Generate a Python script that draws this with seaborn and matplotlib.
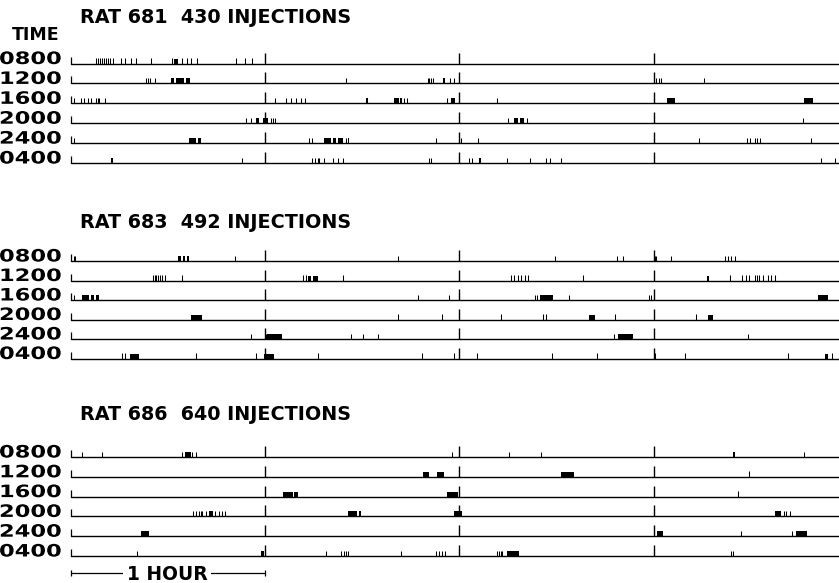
import numpy as np
import pandas as pd
import matplotlib
matplotlib.use("Agg")
import matplotlib.pyplot as plt
import matplotlib.patheffects as pe
from matplotlib.transforms import Affine2D
import seaborn as sns

# ---------------- data ----------------
TIME_LABELS = ["0800", "1200", "1600", "2000", "2400", "0400"]
RAT_IDS = ["681", "683", "686"]
INJECTIONS = [430, 492, 640]
HOUR_MARKS = [60, 120, 180]          # minutes into each 4-hour row
ROW_SPAN = 240                        # minutes per row

# single injection ticks (minutes) per row, RAT 681
r681_ticks = [
    [7.6, 8.2, 8.9, 9.5, 10.1, 10.7, 11.3, 12.2, 13.0, 15.4, 16.7, 18.5, 20.2, 24.6,
     31.3, 34.2, 35.7, 37.0, 38.8, 51.1, 53.8, 55.8],
    [23.1, 23.7, 24.3, 26.0, 85.0, 110.2, 110.7, 111.2, 111.7, 117.2, 118.2,
     180.6, 181.6, 182.4, 195.4],
    [0.9, 3.0, 4.0, 5.1, 6.1, 7.6, 8.2, 8.7, 10.5, 63.1, 66.4, 67.9, 69.5, 71.0, 72.4,
     91.3, 102.8, 103.7, 116.1, 131.6],
    [54.0, 55.6, 61.8, 62.5, 63.1, 134.9, 140.8, 226.2],
    [0.8, 73.6, 74.6, 85.0, 112.8, 120.6, 125.6, 194.0, 208.8, 209.7, 211.2, 212.0,
     212.8, 228.7],
    [52.8, 74.4, 75.5, 76.2, 76.7, 78.3, 80.8, 82.4, 84.0, 110.5, 111.2, 120.0, 123.1,
     123.8, 126.0, 134.6, 141.9, 146.8, 148.1, 151.4, 231.8, 236.0],
]
# bursts (start, end minutes) per row, RAT 681
r681_bursts = [
    [(31.9, 33.0)],
    [(30.8, 31.9), (32.4, 34.9), (35.5, 36.7), (115.0, 115.6)],
    [(91.1, 91.6), (99.9, 101.2), (101.5, 102.2), (117.4, 118.7), (184.1, 186.6),
     (226.4, 229.1)],
    [(57.1, 58.1), (59.4, 61.0), (137.0, 138.2), (138.8, 139.9)],
    [(36.3, 38.6), (39.1, 40.1), (78.3, 80.3), (80.8, 81.9), (82.5, 83.9), (85.6, 86.0)],
    [(12.3, 12.9), (125.9, 126.8)],
]

r683_ticks = [
    [0.8, 1.2, 50.7, 100.9, 149.4, 168.6, 170.5, 180.3, 180.8, 185.4, 201.9, 202.9,
     204.0, 205.0],
    [25.2, 25.8, 26.4, 27.0, 27.6, 28.2, 29.0, 34.4, 71.8, 72.6, 83.9, 136.0, 137.0,
     138.1, 139.1, 140.1, 141.1, 158.3, 203.7, 207.4, 208.4, 209.5, 211.2, 211.9,
     212.5, 213.8, 215.3, 216.4, 217.4],
    [0.9, 107.1, 116.7, 143.2, 143.9, 153.8, 178.6, 179.1],
    [100.9, 114.6, 132.7, 145.9, 146.6, 168.1, 193.0],
    [55.6, 60.2, 86.5, 90.3, 94.7, 167.6, 209.2],
    [15.9, 16.7, 38.6, 57.1, 76.2, 108.4, 118.2, 125.3, 148.6, 162.6, 180.3, 189.6,
     221.5, 235.0],
]
r683_bursts = [
    [(33.2, 34.0), (34.6, 35.3), (35.8, 36.6)],
    [(73.1, 74.1), (74.9, 76.2), (196.5, 197.0)],
    [(3.5, 5.6), (6.1, 7.1), (7.6, 8.7), (144.9, 149.0), (230.8, 233.9)],
    [(37.0, 40.6), (160.0, 162.0), (196.8, 198.3)],
    [(60.6, 65.2), (168.9, 173.6)],
    [(18.1, 21.0), (59.5, 62.8), (232.9, 233.9)],
]

r686_ticks = [
    [3.5, 9.5, 34.4, 37.5, 38.6, 117.6, 135.4, 145.2, 226.5],
    [209.5],
    [206.1],
    [37.7, 38.5, 39.5, 40.1, 40.6, 41.6, 44.6, 45.6, 46.7, 47.7, 220.3, 221.0, 222.0],
    [207.1, 222.6],
    [20.5, 78.8, 83.4, 84.4, 85.0, 85.5, 102.0, 112.8, 113.8, 114.6, 115.5, 131.5,
     132.3, 132.8, 133.3, 204.0, 204.5],
]
r686_bursts = [
    [(35.2, 37.0), (204.6, 205.1)],
    [(108.8, 110.7), (113.0, 115.3), (151.4, 155.5)],
    [(65.4, 68.5), (69.0, 70.2), (116.2, 119.5)],
    [(42.6, 43.9), (85.5, 88.3), (88.9, 89.6), (118.2, 120.8), (217.4, 219.3)],
    [(21.5, 24.1), (181.0, 182.9), (223.9, 227.5)],
    [(58.7, 59.7), (134.7, 138.5)],
]

ALL_TICKS = [r681_ticks, r683_ticks, r686_ticks]
ALL_BURSTS = [r681_bursts, r683_bursts, r686_bursts]

# ---------------- layout ----------------
W, H = 839, 583
PX0 = 71.0            # pixel of minute 0
PX_PER_MIN = 3.237
PANEL_Y0 = [63.5, 261.0, 457.0]
ROW_STEP = [19.9, 19.5, 19.8]
TITLE_Y = [22.7, 228.0, 419.5]
TICK_H, BURST_H, HOUR_H, START_H = 5.5, 5.0, 11.0, 7.0

sns.set_theme(style="white")
plt.rcParams["font.family"] = ["DejaVu Sans"]

fig = plt.figure(figsize=(W / 100, H / 100), dpi=100)
fig.patch.set_facecolor("white")
ax = fig.add_axes([0, 0, 1, 1])
lay = fig.add_axes([0, 0, 1, 1])
lay.set_xlim(0, W)
lay.set_ylim(H, 0)
lay.axis("off")
lay.patch.set_alpha(0)

# baselines as tidy data drawn with seaborn
rows = []
for p in range(3):
    for r in range(6):
        y = PANEL_Y0[p] + r * ROW_STEP[p]
        rows.append({"unit": p * 6 + r, "minute": 0.0, "y": y})
        rows.append({"unit": p * 6 + r, "minute": float(ROW_SPAN), "y": y})
base_df = pd.DataFrame(rows)
sns.lineplot(data=base_df, x="minute", y="y", units="unit", estimator=None,
             color="black", lw=1.0, ax=ax, legend=False)

for p in range(3):
    ticks_p = ALL_TICKS[p]
    bursts_p = ALL_BURSTS[p]
    for r in range(6):
        y = PANEL_Y0[p] + r * ROW_STEP[p]
        # start mark and hour marks
        ax.vlines([0], y - START_H, y, color="black", lw=0.9)
        ax.vlines(HOUR_MARKS, y - HOUR_H, y, color="black", lw=1.0)
        # injection ticks
        ax.vlines(ticks_p[r], y - TICK_H, y, color="black", lw=0.75)
        # bursts
        for s, e in bursts_p[r]:
            ax.bar(s, BURST_H, width=e - s, bottom=y - BURST_H, align="edge",
                   color="black", edgecolor="none", linewidth=0)

# scale bar (1 hour)
SB_Y = 573.0
ax.hlines(SB_Y, 0, 60, color="black", lw=0.9)
ax.vlines([0, 60], SB_Y - 3, SB_Y + 3, color="black", lw=0.9)

ax.set_xlim(-PX0 / PX_PER_MIN, (W - PX0) / PX_PER_MIN)
ax.set_ylim(H, 0)
ax.axis("off")


class HStretch(pe.AbstractPathEffect):
    def __init__(self, sx):
        super().__init__()
        self._sx = sx

    def draw_path(self, renderer, gc, tpath, affine, rgbFace=None):
        renderer.draw_path(gc, tpath, Affine2D().scale(self._sx, 1.0) + affine, rgbFace)


bold = dict(fontweight="bold", color="black")
lay.text(12, 39.5, "TIME", fontsize=12.5, ha="left", va="baseline", **bold)
for p in range(3):
    lay.text(80, TITLE_Y[p], f"RAT {RAT_IDS[p]}  {INJECTIONS[p]} INJECTIONS",
             fontsize=13.8, ha="left", va="baseline", **bold)
    for r in range(6):
        y = PANEL_Y0[p] + r * ROW_STEP[p]
        lay.text(-1, y + 0.5, TIME_LABELS[r], fontsize=12.3, ha="left", va="baseline",
                 path_effects=[HStretch(1.32)], **bold)

lay.text(167, 580, "1 HOUR", fontsize=13.5, ha="center", va="baseline",
         bbox=dict(facecolor="white", edgecolor="none", pad=2.5), **bold)

fig.savefig("out.png", dpi=100, facecolor="white")
